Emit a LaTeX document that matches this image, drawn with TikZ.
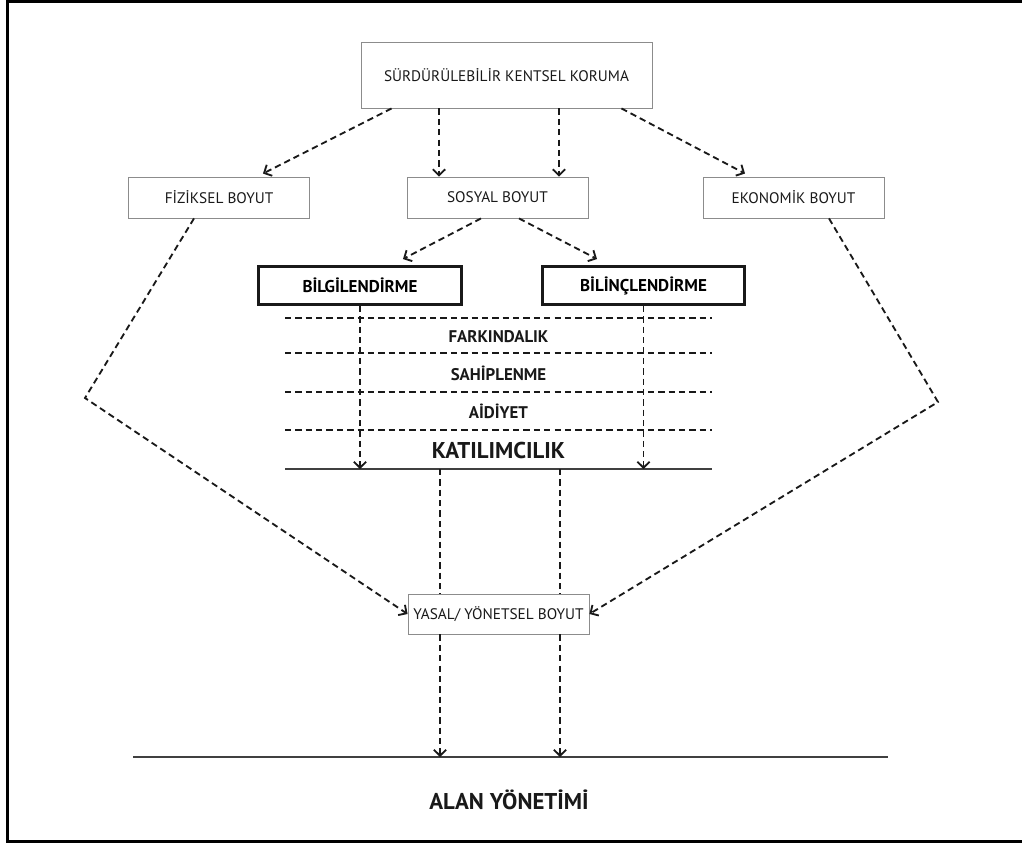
\documentclass[tikz,border=0pt]{standalone}
\usepackage{fontspec}
\setmainfont{PT Sans}
\usetikzlibrary{arrows.meta}
\tikzset{
  dimbox/.style  = {draw=black!45, line width=0.5pt, fill=white, align=center, text=black!90,
                    font=\fontsize{8.7}{10}\selectfont, minimum width=3.62cm,
                    minimum height=0.82cm, inner sep=2pt},
  keybox/.style  = {draw=black!90, line width=1.7pt, fill=white, align=center,
                    font=\fontsize{9.7}{11}\selectfont\bfseries, minimum width=4.06cm,
                    minimum height=0.76cm, inner sep=2pt},
  flow/.style    = {-{Straight Barb[length=3.4pt, width=7pt]}, line width=1.05pt,
                    dash pattern=on 3.6pt off 2.3pt, black!90},
  link/.style    = {line width=1.05pt, dash pattern=on 3.6pt off 2.3pt, black!90},
  layer/.style   = {font=\fontsize{9.6}{11}\selectfont\bfseries, text=black!90},
  headline/.style= {font=\fontsize{13}{15}\selectfont\bfseries, text=black!90},
  ground/.style  = {line width=1.4pt, black!75},
}
\begin{document}
\begin{tikzpicture}[x=0.02cm, y=-0.02cm]
\clip (0,0) rectangle (1022,845);
\useasboundingbox (0,0) rectangle (1022,845);
\draw[line width=1.4pt] (7.5,1.5) rectangle (1030,841.5);

% boxes
\node[dimbox, minimum width=5.82cm, minimum height=1.32cm] (koruma) at (506.5,75)
  {SÜRDÜRÜLEBİLİR KENTSEL KORUMA};
\node[dimbox] (fiziksel) at (219,197.5) {FİZİKSEL BOYUT};
\node[dimbox] (sosyal)   at (497.5,197.5) {SOSYAL BOYUT};
\node[dimbox] (ekonomik) at (793.5,197.5) {EKONOMİK BOYUT};
\node[keybox] (bilgi)  at (360,285.5) {BİLGİLENDİRME};
\node[keybox] (bilinc) at (643.5,285.5) {BİLİNÇLENDİRME};
\node[dimbox, minimum height=0.8cm] (yasal) at (498.5,614) {YASAL/ YÖNETSEL BOYUT};

% layers
\foreach \y in {318,353,392,430}
  \draw[link] (285,\y) -- (712,\y);
\node[layer] (farkindalik) at (498.5,337) {FARKINDALIK};
\node[layer] (sahiplenme)  at (498.5,373) {SAHİPLENME};
\node[layer] (aidiyet)     at (498.5,411) {AİDİYET};
\node[headline] (katilim)  at (498.5,451) {KATILIMCILIK};
\coordinate (katL) at (285,469);
\coordinate (katR) at (712,469);
\draw[ground] (katL) -- (katR);

% bottom
\coordinate (alanL) at (133,757);
\coordinate (alanR) at (888,757);
\draw[ground] (alanL) -- (alanR);
\node[headline] (alan) at (509,800) {ALAN YÖNETİMİ};

% top arrows
\draw[flow] ([xshift=0.62cm]koruma.south west) -- ([xshift=0.88cm, yshift=0.06cm]fiziksel.north);
\draw[flow] ([xshift=-1.17cm]sosyal.north |- koruma.south) -- ([xshift=-1.17cm]sosyal.north);
\draw[flow] ([xshift=1.23cm]sosyal.north |- koruma.south) -- ([xshift=1.23cm]sosyal.north);
\draw[flow] ([xshift=-0.62cm]koruma.south east) -- ([xshift=-0.97cm, yshift=0.06cm]ekonomik.north);

% social branch
\draw[flow] ([xshift=-0.33cm]sosyal.south) -- ([xshift=0.86cm, yshift=0.12cm]bilgi.north);
\draw[flow] ([xshift=0.43cm]sosyal.south) -- ([xshift=-0.93cm, yshift=0.12cm]bilinc.north);
\draw[flow] (bilgi) -- (bilgi |- katL);
\draw[flow] (bilinc) -- (bilinc |- katL);

% side branches
\coordinate (fbend) at (85,398);
\coordinate (ebend) at (938,402);
\draw[flow] ([xshift=-0.5cm]fiziksel.south) -- (fbend) -- (yasal.west);
\draw[flow] ([xshift=0.71cm]ekonomik.south) -- (ebend) -- (yasal.east);

% down to management
\foreach \x in {440,560} {
  \coordinate (k\x) at (\x,469);
  \draw[link] (k\x) -- (k\x |- yasal.north);
  \draw[flow] (k\x |- yasal.south) -- (k\x |- alanL);
}

\end{tikzpicture}
\end{document}
